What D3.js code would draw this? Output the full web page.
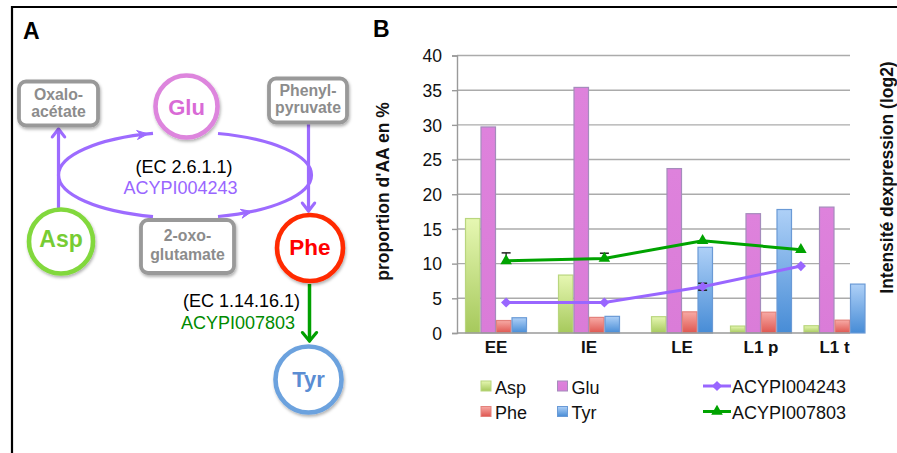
<!DOCTYPE html>
<html><head><meta charset="utf-8">
<script src="https://cdn.jsdelivr.net/npm/d3@7"></script>
<style>
body{margin:0;background:#fff}
svg{display:block;font-family:"Liberation Sans",Arial,Helvetica,sans-serif}
</style>
</head><body><svg id="c" width="897" height="453"></svg>
<script>
// ---------------- DATA ----------------
const stages = ["EE", "IE", "LE", "L1 p", "L1 t"];
const aminoAcids = ["Asp", "Glu", "Phe", "Tyr"];
const aspValues = [16.5, 8.35, 2.35, 1.0, 1.05];
const gluValues = [29.7, 35.4, 23.7, 17.2, 18.15];
const pheValues = [1.8, 2.25, 3.05, 3.0, 1.85];
const tyrValues = [2.2, 2.4, 12.35, 17.8, 7.05];
const lineStages = ["EE", "IE", "LE", "L1"];
const geneNames = ["ACYPI004243", "ACYPI007803"];
const acypi004243 = [4.4, 4.4, 6.67, 9.65];
const acypi004243Err = [0, 0, 0.5, 0];
const acypi007803 = [10.4, 10.75, 13.3, 12.0];
const acypi007803ErrPlus = [1.15, 0.75, 0, 0];
const yTicks = [0, 5, 10, 15, 20, 25, 30, 35, 40];
const yTitle = "proportion d'AA en %";
const y2Title = "Intensité dexpression (log2)";

// ---------------- SETUP ----------------
const svg = d3.select("#c");
const FONT = "'Liberation Sans', Arial, Helvetica, sans-serif";
const defs = svg.append("defs");

function vGrad(id, top, bottom) {
  const g = defs.append("linearGradient").attr("id", id)
    .attr("x1", 0).attr("y1", 0).attr("x2", 0).attr("y2", 1);
  g.append("stop").attr("offset", "0%").attr("stop-color", top);
  g.append("stop").attr("offset", "100%").attr("stop-color", bottom);
}
vGrad("gAsp", "#E6F7B2", "#A6C95C");
vGrad("gGlu", "#DE82DC", "#DA7CD8");
vGrad("gPhe", "#F7AAA5", "#DF5650");
vGrad("gTyr", "#AED0F7", "#478CD6");
const barFill = {Asp: "url(#gAsp)", Glu: "url(#gGlu)", Phe: "url(#gPhe)", Tyr: "url(#gTyr)"};
const barStroke = {Asp: "#B9D67E", Glu: "#A58CBC", Phe: "#E3827C", Tyr: "#6A9AD6"};

const sh = defs.append("filter").attr("id", "shadow")
  .attr("x", "-30%").attr("y", "-30%").attr("width", "160%").attr("height", "160%");
sh.append("feDropShadow").attr("dx", 1).attr("dy", 2).attr("stdDeviation", 1.5)
  .attr("flood-color", "#000").attr("flood-opacity", 0.3);

// outer frame
svg.append("path").attr("d", "M12,453 L12,7 L897,7")
  .attr("fill", "none").attr("stroke", "#000").attr("stroke-width", 2.2);

// panel letters
svg.append("text").attr("x", 23).attr("y", 39).text("A")
  .attr("font-size", 23).attr("font-weight", "bold");
svg.append("text").attr("x", 373).attr("y", 37).text("B")
  .attr("font-size", 23).attr("font-weight", "bold");

// ---------------- PANEL A ----------------
const A = svg.append("g");
const purple = "#9D6BFF", green = "#00A000", grey = "#999999";

function chevron(g, tipX, tipY, angle, color, len = 9, spread = 38) {
  [spread, -spread].forEach(s => {
    const a = (angle + 180 + s) * Math.PI / 180;
    g.append("line").attr("x1", tipX).attr("y1", tipY)
      .attr("x2", tipX + len * Math.cos(a)).attr("y2", tipY + len * Math.sin(a))
      .attr("stroke", color).attr("stroke-width", 3.2).attr("stroke-linecap", "round");
  });
}
function wedge(g, tipX, tipY, angle, color, len = 11, half = 4.5) {
  const a = angle * Math.PI / 180, c = Math.cos(a), s = Math.sin(a);
  const bx = tipX - len * c, by = tipY - len * s;
  g.append("path")
    .attr("d", `M${tipX},${tipY} L${bx - half * s},${by + half * c} L${bx + 0.35 * len * c},${by + 0.35 * len * s} L${bx + half * s},${by - half * c} Z`)
    .attr("fill", color).attr("stroke", color).attr("stroke-width", 1).attr("stroke-linejoin", "round");
}

// ellipse (broken by Glu and 2-oxo-glutamate)
const ex = 185, ey = 175, erx = 126.5, ery = 43;
function ePt(x, sign) { const c = (x - ex) / erx; return [x, ey + sign * ery * Math.sqrt(1 - c * c)]; }
const tr = ePt(218, -1), br = ePt(218, 1), bl = ePt(153, 1), tl = ePt(153, -1);
A.append("path")
  .attr("d", `M${tr[0]},${tr[1]} A${erx},${ery} 0 0 1 ${br[0]},${br[1]}`)
  .attr("fill", "none").attr("stroke", purple).attr("stroke-width", 3.2);
A.append("path")
  .attr("d", `M${bl[0]},${bl[1]} A${erx},${ery} 0 0 1 ${tl[0]},${tl[1]}`)
  .attr("fill", "none").attr("stroke", purple).attr("stroke-width", 3.2);
function eTangentAngle(x, sign) {
  const c = (x - ex) / erx, s = sign * Math.sqrt(1 - c * c);
  return Math.atan2(ery * c, -erx * s) * 180 / Math.PI;
}
{
  const p = ePt(148, -1);
  wedge(A, p[0], p[1], eTangentAngle(148, -1), purple);
  const q = ePt(252, 1);
  wedge(A, q[0], q[1], eTangentAngle(252, 1) + 180, purple);
}

// vertical arrows
A.append("line").attr("x1", 58.5).attr("y1", 208).attr("x2", 58.5).attr("y2", 129)
  .attr("stroke", purple).attr("stroke-width", 3.2);
chevron(A, 58.5, 129, -90, purple, 10, 38);
A.append("line").attr("x1", 308.5).attr("y1", 124).attr("x2", 308.5).attr("y2", 211)
  .attr("stroke", purple).attr("stroke-width", 3.2);
chevron(A, 308.5, 211, 90, purple, 10, 38);
A.append("line").attr("x1", 309.5).attr("y1", 284).attr("x2", 309.5).attr("y2", 341)
  .attr("stroke", green).attr("stroke-width", 3.5);
chevron(A, 309.5, 341, 90, green, 11, 40);

// boxes
function box(cx, cy, w, h, lines, baselines) {
  const g = A.append("g");
  g.append("rect").attr("x", cx - w / 2).attr("y", cy - h / 2).attr("width", w).attr("height", h)
    .attr("rx", 7).attr("fill", "#fff").attr("stroke", grey).attr("stroke-width", 3.8)
    .attr("filter", "url(#shadow)");
  lines.forEach((t, i) => g.append("text").attr("x", cx).attr("y", baselines[i])
    .attr("text-anchor", "middle").attr("font-size", 15.8).attr("font-weight", "bold")
    .attr("fill", "#8C8C8C").text(t));
}
box(58.5, 103.5, 79, 44, ["Oxalo-", "acétate"], [100, 117]);
box(308, 100.5, 78, 44, ["Phenyl-", "pyruvate"], [96, 113]);
box(187.5, 246.5, 93, 53, ["2-oxo-", "glutamate"], [240.5, 260]);

// circles
function node(cx, cy, r, color, textColor, label, fs, baseline) {
  const g = A.append("g");
  g.append("circle").attr("cx", cx).attr("cy", cy).attr("r", r)
    .attr("fill", "#fff").attr("stroke", color).attr("stroke-width", 4.6)
    .attr("filter", "url(#shadow)");
  g.append("text").attr("x", cx).attr("y", baseline).attr("text-anchor", "middle")
    .attr("font-size", fs).attr("font-weight", "bold").attr("fill", textColor).text(label);
}
node(186.5, 106.5, 31, "#DD85DD", "#D96AD6", "Glu", 22, 115);
node(61, 241.5, 32, "#82D83E", "#77CC33", "Asp", 23, 247);
node(310, 248, 33, "#FF2A00", "#FF0000", "Phe", 22.5, 254.5);
node(308.5, 379.5, 33, "#6CA2DE", "#5B8DD3", "Tyr", 22, 386.5);

// enzyme labels
A.append("text").attr("x", 184).attr("y", 173).attr("text-anchor", "middle")
  .attr("font-size", 18).attr("fill", "#000").text("(EC 2.6.1.1)");
A.append("text").attr("x", 180.5).attr("y", 194).attr("text-anchor", "middle")
  .attr("font-size", 18).attr("fill", "#9966FF").text(geneNames[0]);
A.append("text").attr("x", 300).attr("y", 307).attr("text-anchor", "end")
  .attr("font-size", 18).attr("fill", "#000").text("(EC 1.14.16.1)");
A.append("text").attr("x", 295).attr("y", 329).attr("text-anchor", "end")
  .attr("font-size", 18).attr("fill", "#008A00").text(geneNames[1]);

// ---------------- PANEL B ----------------
const plotL = 457, plotR = 850, plotT = 55.5, plotB = 333;
const y = d3.scaleLinear().domain([0, 40]).range([plotB, plotT]);
const xGroup = d3.scaleOrdinal().domain(stages).range([496, 589, 682, 761, 834.5]);
const xInner = d3.scaleBand().domain(aminoAcids).range([-31, 31]);
const xLine = d3.scalePoint().domain(lineStages).range([plotL, plotR]).padding(0.5);

const B = svg.append("g");
B.append("g").selectAll("line").data(yTicks.filter(t => t > 0)).join("line")
  .attr("x1", plotL).attr("x2", plotR).attr("y1", d => y(d)).attr("y2", d => y(d))
  .attr("stroke", "#ABABAB").attr("stroke-width", 1.4);

const seriesVals = {Asp: aspValues, Glu: gluValues, Phe: pheValues, Tyr: tyrValues};
const barData = [];
stages.forEach((s, i) => aminoAcids.forEach(a => barData.push({stage: s, aa: a, v: seriesVals[a][i]})));
B.append("g").selectAll("rect").data(barData).join("rect")
  .attr("x", d => xGroup(d.stage) + xInner(d.aa) + 0.5)
  .attr("width", xInner.bandwidth() - 1)
  .attr("y", d => y(d.v))
  .attr("height", d => y(0) - y(d.v))
  .attr("fill", d => barFill[d.aa])
  .attr("stroke", d => barStroke[d.aa]).attr("stroke-width", 1.2);

const yAxis = d3.axisLeft(y).tickValues(yTicks).tickSize(5).tickPadding(10);
const gy = B.append("g").attr("transform", `translate(${plotL},0)`).call(yAxis);
gy.select(".domain").attr("stroke", "#9A9A9A").attr("stroke-width", 1.4);
gy.selectAll(".tick line").attr("stroke", "#9A9A9A").attr("stroke-width", 1.4);
gy.selectAll(".tick text").attr("font-family", FONT).attr("font-size", 17.5).attr("fill", "#111")
  .attr("dy", "0.36em");
B.append("line").attr("x1", plotL).attr("x2", plotR).attr("y1", plotB).attr("y2", plotB)
  .attr("stroke", "#9A9A9A").attr("stroke-width", 1.6);
B.append("g").selectAll("text").data(stages).join("text")
  .attr("x", d => xGroup(d)).attr("y", 353).attr("text-anchor", "middle")
  .attr("font-size", 17).attr("font-weight", "bold").attr("fill", "#111").text(d => d);

B.append("text").attr("transform", "translate(389,191.5) rotate(-90)")
  .attr("text-anchor", "middle").attr("font-size", 17.5).attr("font-weight", "bold")
  .attr("fill", "#111").text(yTitle);
B.append("text").attr("transform", "translate(892.5,177.5) rotate(-90)")
  .attr("text-anchor", "middle").attr("font-size", 17.5).attr("font-weight", "bold")
  .attr("fill", "#111").text(y2Title);

const lineGen = d3.line().x((d, i) => xLine(lineStages[i])).y(d => y(d));
const purpleL = "#9966FF", greenL = "#00A300";
B.append("path").datum(acypi004243).attr("d", lineGen).attr("fill", "none")
  .attr("stroke", purpleL).attr("stroke-width", 3);
B.append("path").datum(acypi007803).attr("d", lineGen).attr("fill", "none")
  .attr("stroke", greenL).attr("stroke-width", 3);

function errBar(g, x, y1, y2, capTop, capBottom) {
  g.append("line").attr("x1", x).attr("x2", x).attr("y1", y1).attr("y2", y2)
    .attr("stroke", "#222").attr("stroke-width", 1.3);
  if (capTop) g.append("line").attr("x1", x - 4.5).attr("x2", x + 4.5).attr("y1", y1).attr("y2", y1)
    .attr("stroke", "#222").attr("stroke-width", 1.5);
  if (capBottom) g.append("line").attr("x1", x - 4.5).attr("x2", x + 4.5).attr("y1", y2).attr("y2", y2)
    .attr("stroke", "#222").attr("stroke-width", 1.5);
}
const eg = B.append("g");
acypi007803.forEach((v, i) => { if (acypi007803ErrPlus[i] > 0)
  errBar(eg, xLine(lineStages[i]), y(v + acypi007803ErrPlus[i]), y(v), true, false); });
acypi004243.forEach((v, i) => { if (acypi004243Err[i] > 0)
  errBar(eg, xLine(lineStages[i]), y(v + acypi004243Err[i]), y(v - acypi004243Err[i]), true, true); });

const diamond = d3.symbol(d3.symbolSquare, 52);
const tri = d3.symbol(d3.symbolTriangle, 58);
B.append("g").selectAll("path").data(acypi004243).join("path")
  .attr("d", diamond)
  .attr("transform", (d, i) => `translate(${xLine(lineStages[i])},${y(d)}) rotate(45)`)
  .attr("fill", purpleL);
B.append("g").selectAll("path").data(acypi007803).join("path")
  .attr("d", tri)
  .attr("transform", (d, i) => `translate(${xLine(lineStages[i])},${y(d)})`)
  .attr("fill", greenL);

const L = svg.append("g");
const legItems = [
  {aa: "Asp", x: 481, y: 381}, {aa: "Glu", x: 557.5, y: 381},
  {aa: "Phe", x: 481, y: 406.5}, {aa: "Tyr", x: 557.5, y: 406.5}
];
legItems.forEach(d => {
  L.append("rect").attr("x", d.x).attr("y", d.y).attr("width", 10).attr("height", 10)
    .attr("fill", barFill[d.aa]).attr("stroke", barStroke[d.aa]).attr("stroke-width", 1);
  L.append("text").attr("x", d.x + 14).attr("y", d.y + 12.5).attr("font-size", 18)
    .attr("fill", "#111").text(d.aa);
});
[[geneNames[0], purpleL, diamond, 386, 45], [geneNames[1], greenL, tri, 411.5, 0]].forEach(([name, col, sym, ly, rot]) => {
  L.append("line").attr("x1", 703).attr("x2", 731).attr("y1", ly).attr("y2", ly)
    .attr("stroke", col).attr("stroke-width", 3);
  L.append("path").attr("d", sym).attr("transform", `translate(717,${ly}) rotate(${rot})`).attr("fill", col);
  L.append("text").attr("x", 732).attr("y", ly + 7).attr("font-size", 18).attr("fill", "#111").text(name);
});
</script>
</body></html>
